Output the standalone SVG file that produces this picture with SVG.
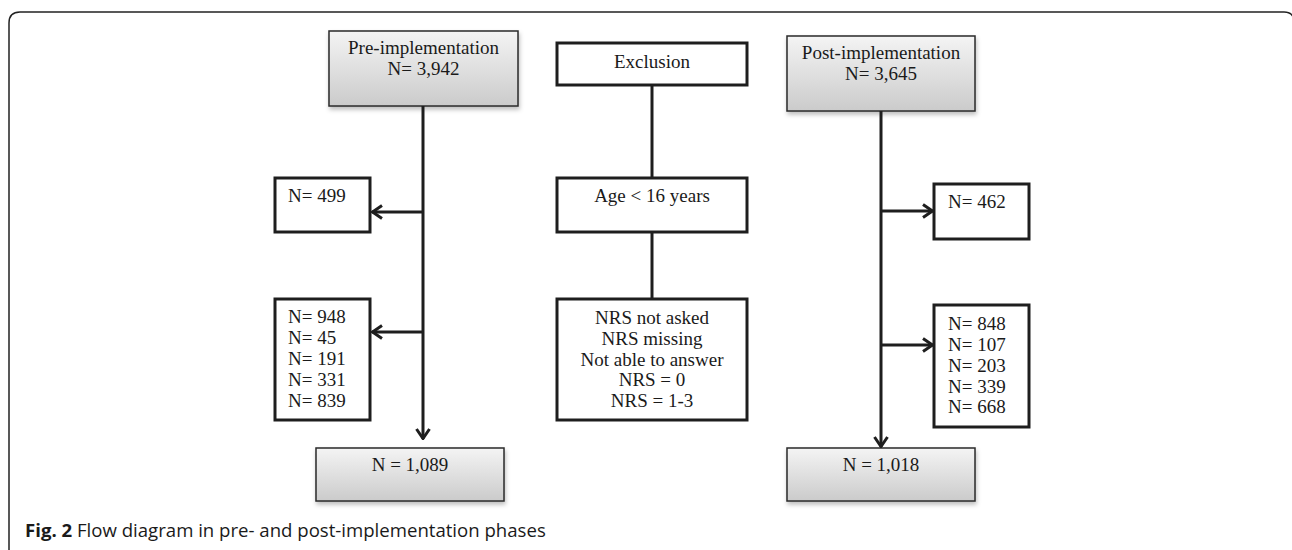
<svg xmlns="http://www.w3.org/2000/svg" width="1292" height="550" viewBox="0 0 1292 550">
<defs>
<linearGradient id="g" x1="0" y1="0" x2="0" y2="1">
<stop offset="0" stop-color="#f4f4f4"/>
<stop offset="1" stop-color="#cbcbcb"/>
</linearGradient>
<filter id="sh" x="-5%" y="-5%" width="115%" height="125%">
<feDropShadow dx="1" dy="3" stdDeviation="2" flood-color="#000" flood-opacity="0.25"/>
</filter>
<marker id="ah" viewBox="0 0 12 16" refX="11" refY="8" markerWidth="12" markerHeight="16" markerUnits="userSpaceOnUse" orient="auto">
<path d="M1,1.5 L10.5,8 L1,14.5" fill="none" stroke="#1e1e1e" stroke-width="3"/>
</marker>
</defs>
<style>
.t{font-family:"Liberation Serif","Times New Roman",serif;font-size:19px;fill:#1a1a1a}
.c{text-anchor:middle}
.gb{fill:url(#g);stroke:#2a2a2a;stroke-width:1.5;filter:url(#sh)}
.wb{fill:#fff;stroke:#1e1e1e;stroke-width:3}
.ln{fill:none;stroke:#1e1e1e;stroke-width:3}
.cap{font-family:"Open Sans","Noto Sans",sans-serif;font-size:18.6px;fill:#1a1a1a}
</style>
<rect width="1292" height="550" fill="#fff"/>
<path d="M9,550 L9,23 Q9,12 20,12 L1284,12 Q1294,12 1294,22 L1294,550" fill="none" stroke="#222" stroke-width="1.5"/>
<g id="pre">
<rect class="gb" x="329" y="31" width="189" height="75"/>
<text class="t c" x="423.5" y="54">Pre-implementation</text>
<text class="t c" x="423.5" y="75">N= 3,942</text>
</g>
<g id="exclusion">
<rect class="wb" x="557" y="43" width="190" height="42"/>
<text class="t c" x="652" y="68">Exclusion</text>
</g>
<g id="post">
<rect class="gb" x="787" y="36" width="188" height="75"/>
<text class="t c" x="881" y="59">Post-implementation</text>
<text class="t c" x="881" y="80">N= 3,645</text>
</g>
<g id="pre499">
<rect class="wb" x="275" y="178" width="95" height="54"/>
<text class="t" x="288" y="202">N= 499</text>
</g>
<g id="preList">
<rect class="wb" x="275" y="299" width="95" height="121"/>
<text class="t" x="288" y="323">N= 948</text>
<text class="t" x="288" y="344">N= 45</text>
<text class="t" x="288" y="365">N= 191</text>
<text class="t" x="288" y="386">N= 331</text>
<text class="t" x="288" y="407">N= 839</text>
</g>
<g id="age">
<rect class="wb" x="557" y="178" width="190" height="54"/>
<text class="t c" x="652" y="202">Age &lt; 16 years</text>
</g>
<g id="nrs">
<rect class="wb" x="557" y="299" width="190" height="121"/>
<text class="t c" x="652" y="324">NRS not asked</text>
<text class="t c" x="652" y="345">NRS missing</text>
<text class="t c" x="652" y="366">Not able to answer</text>
<text class="t c" x="652" y="386">NRS = 0</text>
<text class="t c" x="652" y="407">NRS = 1-3</text>
</g>
<g id="post462">
<rect class="wb" x="934" y="184" width="95" height="55"/>
<text class="t" x="948" y="208">N= 462</text>
</g>
<g id="postList">
<rect class="wb" x="934" y="305" width="95" height="122"/>
<text class="t" x="948" y="330">N= 848</text>
<text class="t" x="948" y="351">N= 107</text>
<text class="t" x="948" y="372">N= 203</text>
<text class="t" x="948" y="393">N= 339</text>
<text class="t" x="948" y="413">N= 668</text>
</g>
<g id="preFinal">
<rect class="gb" x="316" y="448" width="188" height="53"/>
<text class="t c" x="410" y="471">N = 1,089</text>
</g>
<g id="postFinal">
<rect class="gb" x="787" y="448" width="188" height="53"/>
<text class="t c" x="881" y="471">N = 1,018</text>
</g>
<g id="connectors">
<line class="ln" x1="423" y1="106" x2="423" y2="439" marker-end="url(#ah)"/>
<line class="ln" x1="423" y1="212" x2="372" y2="212" marker-end="url(#ah)"/>
<line class="ln" x1="423" y1="332" x2="372" y2="332" marker-end="url(#ah)"/>
<line class="ln" x1="652" y1="85" x2="652" y2="178"/>
<line class="ln" x1="652" y1="232" x2="652" y2="299"/>
<line class="ln" x1="881" y1="111" x2="881" y2="447" marker-end="url(#ah)"/>
<line class="ln" x1="881" y1="211" x2="933" y2="211" marker-end="url(#ah)"/>
<line class="ln" x1="881" y1="345" x2="933" y2="345" marker-end="url(#ah)"/>
</g>
<text class="cap" x="25" y="537"><tspan font-weight="bold">Fig. 2</tspan> Flow diagram in pre- and post-implementation phases</text>
</svg>
